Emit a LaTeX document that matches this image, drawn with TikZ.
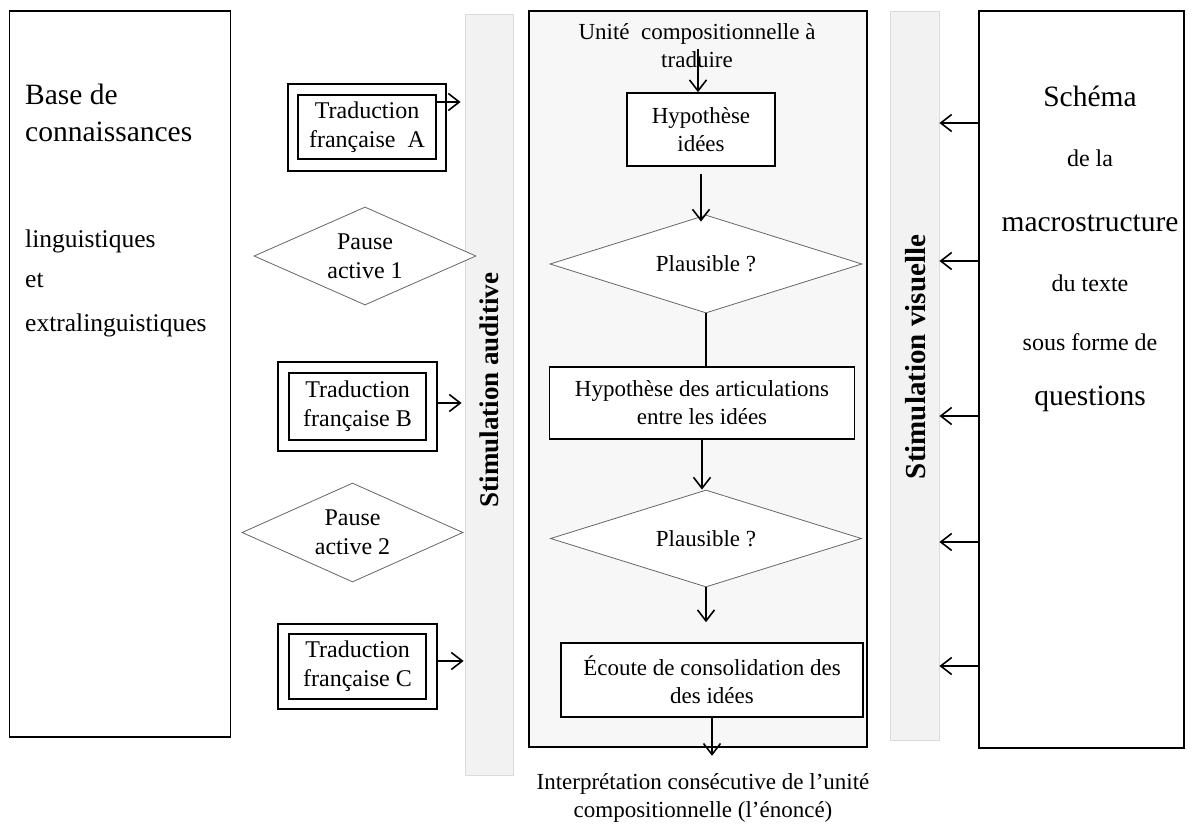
\documentclass[tikz,border=0pt]{standalone}
\usepackage{fontspec}
\setmainfont{Liberation Serif}
\usetikzlibrary{arrows.meta,shapes.geometric}

\newcommand{\txt}{\fontsize{23}{28}\selectfont}
\newcommand{\txtb}{\fontsize{24}{29}\selectfont}
\newcommand{\txtl}{\fontsize{29.5}{34}\selectfont}
\newcommand{\txtm}{\fontsize{25.5}{30}\selectfont}
\newcommand{\stima}{\fontsize{27}{32}\selectfont\bfseries}
\newcommand{\stimv}{\fontsize{29}{34}\selectfont\bfseries}

\tikzset{
  frame/.style={draw, line width=1.6pt, inner sep=0pt},
  box/.style={draw, line width=1.6pt, fill=white, inner sep=0pt, align=center},
  dia/.style={draw=black!60, line width=0.8pt, diamond, inner sep=0pt, fill=white, align=center},
  arr/.style={line width=1.6pt, -{Straight Barb[length=11pt,width=17pt]}},
  plain/.style={line width=1.6pt},
  bar/.style={draw=black!14, fill=black!5, line width=0.8pt, inner sep=0pt},
  lbl/.style={inner sep=0pt},
}

\begin{document}
\begin{tikzpicture}[x=1pt,y=-1pt]
\useasboundingbox (0,0) rectangle (1194,824);

% stimulation bars (drawn first, so shapes may overlap them)
\node[bar, minimum width=48, minimum height=761] (aud) at (489,394.5) {};
\node[lbl, rotate=90, font=\stima] (audt) at (489.5,390) {Stimulation auditive};
\node[bar, minimum width=49, minimum height=729] (vis) at (914.5,375.5) {};
\node[lbl, rotate=90, font=\stimv] (vist) at (916,357) {Stimulation visuelle};

% knowledge base panel
\node[frame, minimum width=221, minimum height=726] (kb) at (120,374) {};
\node[lbl, anchor=base west, font=\txtl] (kb1) at (25,105) {Base de};
\node[lbl, anchor=base west, font=\txtl] (kb2) at (25,142) {connaissances};
\node[lbl, anchor=base west, font=\txtm] (kb3) at (25,247) {linguistiques};
\node[lbl, anchor=base west, font=\txtm] (kb4) at (25,287) {et};
\node[lbl, anchor=base west, font=\txtm] (kb5) at (25,331) {extralinguistiques};

% translations and active pauses
\node[frame, minimum width=158, minimum height=87] (tAo) at (367,127.5) {};
\node[box, minimum width=138, minimum height=64, font=\txtb] (tAi) at (367,127) {Traduction\\française\ \ A};
\node[dia, aspect=2.27, minimum width=222, minimum height=98, font=\txtb] (p1) at (365,256) {Pause\\active 1};
\node[frame, minimum width=159, minimum height=89] (tBo) at (357.5,406.5) {};
\node[box, minimum width=137, minimum height=67, font=\txtb] (tBi) at (357.5,406.5) {Traduction\\française B};
\node[dia, aspect=2.23, minimum width=221, minimum height=99, font=\txtb] (p2) at (352.5,532.5) {Pause\\active 2};
\node[frame, minimum width=159, minimum height=85] (tCo) at (357.5,666.5) {};
\node[box, minimum width=137, minimum height=65, font=\txtb] (tCi) at (357.5,666.5) {Traduction\\française C};

% central processing column
\node[draw, line width=1.6pt, fill=black!3, minimum width=338, minimum height=736, inner sep=0pt] (cbox) at (698,379) {};
\node[lbl, align=center, font=\txt] (unit) at (697,46) {Unité\ \ compositionnelle à\\traduire};
\coordinate (ustart) at (698,49);
\node[box, minimum width=148, minimum height=73, font=\txt] (h1) at (701,129.5) {Hypothèse\\idées};
\node[dia, aspect=3.18, minimum width=312, minimum height=98, font=\txt] (d1) at (706,264) {Plausible ?};
\node[box, minimum width=305, minimum height=72, font=\txt] (h2) at (702,403) {Hypothèse des articulations\\entre les idées};
\node[dia, aspect=3.2, minimum width=311, minimum height=97, font=\txt] (d2) at (706,538.5) {Plausible ?};
\node[box, minimum width=302, minimum height=74, font=\txt] (e) at (712,680) {Écoute de consolidation des\\des idées};
\node[lbl, align=center, font=\txt] (out) at (703,798) {Interprétation consécutive de l’unité\\compositionnelle (l’énoncé)};

\draw[arr] (ustart) -- (ustart |- h1.north);
\draw[arr] ([yshift=-7pt]h1.south) -- ([yshift=-7pt]h1.south |- d1.north);
\draw[plain] (d1.south) -- (d1.south |- h2.north);
\draw[arr] (h2.south) -- (h2.south |- d2.north);
\draw[arr] (d2.south) -- ([yshift=20pt]d2.south |- e.north);
\draw[arr] (e.south) -- ([yshift=-8pt]e.south |- cbox.south);

% macrostructure panel
\node[frame, minimum width=205, minimum height=737] (rb) at (1081.5,379.5) {};
\node[lbl, anchor=base, font=\txtl] (sm1) at (1090,107) {Schéma};
\node[lbl, anchor=base, font=\txtb] (sm2) at (1090,167) {de la};
\node[lbl, anchor=base, font=\txtl] (sm3) at (1090,231) {macrostructure};
\node[lbl, anchor=base, font=\txtb] (sm4) at (1090,291) {du texte};
\node[lbl, anchor=base, font=\txtb] (sm5) at (1090,350) {sous forme de};
\node[lbl, anchor=base, font=\txtl] (sm6) at (1090,405) {questions};

% auditory inputs
\draw[arr, shorten >=4pt] ([yshift=25pt]tAi.east) -- ([yshift=25pt]tAi.east -| aud.west);
\draw[arr, shorten >=3pt] ([yshift=3.5pt]tBo.east) -- ([yshift=3.5pt]tBo.east -| aud.west);
\draw[arr, shorten >=1pt] ([yshift=5.5pt]tCo.east) -- ([yshift=5.5pt]tCo.east -| aud.west);

% visual inputs
\foreach \s in {256.5,118.5,-36.5,-162.5,-286.5}
  \draw[arr] ([yshift=\s pt]rb.west) -- ([yshift=\s pt]rb.west -| vis.east);
\end{tikzpicture}
\end{document}
